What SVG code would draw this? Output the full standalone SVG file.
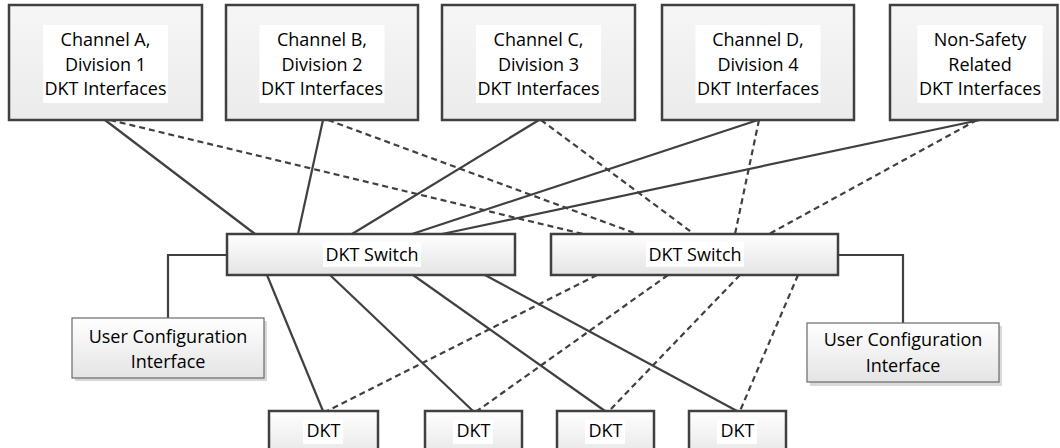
<svg xmlns="http://www.w3.org/2000/svg" width="1060" height="448" viewBox="0 0 1060 448">
<defs>
<linearGradient id="gTop" x1="0" y1="0" x2="0" y2="1"><stop offset="0" stop-color="#f6f6f6"/><stop offset="1" stop-color="#ebebeb"/></linearGradient>
<linearGradient id="gBox" x1="0" y1="0" x2="0" y2="1"><stop offset="0" stop-color="#ffffff"/><stop offset="1" stop-color="#e4e4e4"/></linearGradient>
<style>
.box{fill:url(#gTop);stroke:#404040;stroke-width:2.5}
.sw{fill:url(#gBox);stroke:#404040;stroke-width:2.5}
.uci{fill:url(#gBox);stroke:#6a6a6a;stroke-width:1.2}
.shadow{fill:#d9d9d9}
.tbg{fill:#ffffff}
text{font-family:"Open Sans","Liberation Sans",sans-serif;font-size:18px;fill:#000;text-anchor:middle}
.c line,.c polyline{stroke:#404040;stroke-width:2.2;fill:none}
.c .d{stroke-dasharray:6 4}
</style>
</defs>
<rect width="1060" height="448" fill="#fff"/>
<g class="c" id="connectors">
<line x1="105" y1="120" x2="255" y2="234"/>
<line x1="323" y1="120" x2="298" y2="234"/>
<line x1="539" y1="120" x2="352" y2="234"/>
<line x1="758" y1="120" x2="412" y2="234"/>
<line x1="980" y1="120" x2="442" y2="234"/>
<line class="d" x1="110" y1="120" x2="583" y2="234"/>
<line class="d" x1="328" y1="120" x2="637" y2="234"/>
<line class="d" x1="541" y1="120" x2="694" y2="234"/>
<line class="d" x1="759" y1="120" x2="735" y2="234"/>
<line class="d" x1="977" y1="120" x2="769" y2="234"/>
<line x1="267" y1="275" x2="323" y2="411"/>
<line x1="330" y1="275" x2="473" y2="411"/>
<line x1="413" y1="275" x2="605" y2="411"/>
<line x1="485" y1="275" x2="737" y2="411"/>
<line class="d" x1="597" y1="275" x2="327" y2="411"/>
<line class="d" x1="668" y1="275" x2="477" y2="411"/>
<line class="d" x1="740" y1="275" x2="609" y2="411"/>
<line class="d" x1="798" y1="275" x2="740" y2="411"/>
<polyline points="227,255 168,255 168,318"/>
<polyline points="838,255 903,255 903,323"/>
</g>
<g id="chA">
<rect class="box" x="9" y="5" width="193" height="115"/>
<rect class="tbg" x="43" y="25" width="125" height="78"/>
<text x="105.5" y="46">Channel A,</text><text x="105.5" y="70.5">Division 1</text><text x="105.5" y="95">DKT Interfaces</text>
</g>
<g id="chB">
<rect class="box" x="226" y="5" width="192" height="115"/>
<rect class="tbg" x="259.5" y="25" width="125" height="78"/>
<text x="322" y="46">Channel B,</text><text x="322" y="70.5">Division 2</text><text x="322" y="95">DKT Interfaces</text>
</g>
<g id="chC">
<rect class="box" x="442" y="5" width="193" height="115"/>
<rect class="tbg" x="476" y="25" width="125" height="78"/>
<text x="538.5" y="46">Channel C,</text><text x="538.5" y="70.5">Division 3</text><text x="538.5" y="95">DKT Interfaces</text>
</g>
<g id="chD">
<rect class="box" x="662" y="5" width="192" height="115"/>
<rect class="tbg" x="695.5" y="25" width="125" height="78"/>
<text x="758" y="46">Channel D,</text><text x="758" y="70.5">Division 4</text><text x="758" y="95">DKT Interfaces</text>
</g>
<g id="nonSafety">
<rect class="box" x="890" y="5" width="167.5" height="115"/>
<rect class="tbg" x="917.5" y="25" width="125" height="78"/>
<text x="980" y="46">Non-Safety</text><text x="980" y="70.5">Related</text><text x="980" y="95">DKT Interfaces</text>
</g>
<g id="switch1">
<rect class="sw" x="227" y="234" width="288" height="41"/>
<rect class="tbg" x="323" y="242" width="98" height="25"/>
<text x="372" y="261">DKT Switch</text>
</g>
<g id="switch2">
<rect class="sw" x="551" y="234" width="287" height="41"/>
<rect class="tbg" x="646" y="242" width="98" height="25"/>
<text x="695" y="261">DKT Switch</text>
</g>
<g id="uciLeft">
<rect class="shadow" x="75" y="321" width="192" height="60"/>
<rect class="uci" x="72" y="318" width="192" height="60"/>
<text x="168" y="343">User Configuration</text><text x="168" y="368">Interface</text>
</g>
<g id="uciRight">
<rect class="shadow" x="810" y="326" width="192" height="60"/>
<rect class="uci" x="807" y="323" width="192" height="59"/>
<text x="903" y="346">User Configuration</text><text x="903" y="372">Interface</text>
</g>
<g id="dkt1">
<rect class="sw" x="269" y="411" width="109" height="50"/>
<rect class="tbg" x="303" y="420" width="40" height="24"/>
<text x="323.5" y="437">DKT</text>
</g>
<g id="dkt2">
<rect class="sw" x="425" y="411" width="97" height="50"/>
<rect class="tbg" x="453" y="420" width="40" height="24"/>
<text x="473.5" y="437">DKT</text>
</g>
<g id="dkt3">
<rect class="sw" x="557" y="411" width="97" height="50"/>
<rect class="tbg" x="585" y="420" width="40" height="24"/>
<text x="605.5" y="437">DKT</text>
</g>
<g id="dkt4">
<rect class="sw" x="689" y="411" width="97" height="50"/>
<rect class="tbg" x="717" y="420" width="40" height="24"/>
<text x="737.5" y="437">DKT</text>
</g>
</svg>
